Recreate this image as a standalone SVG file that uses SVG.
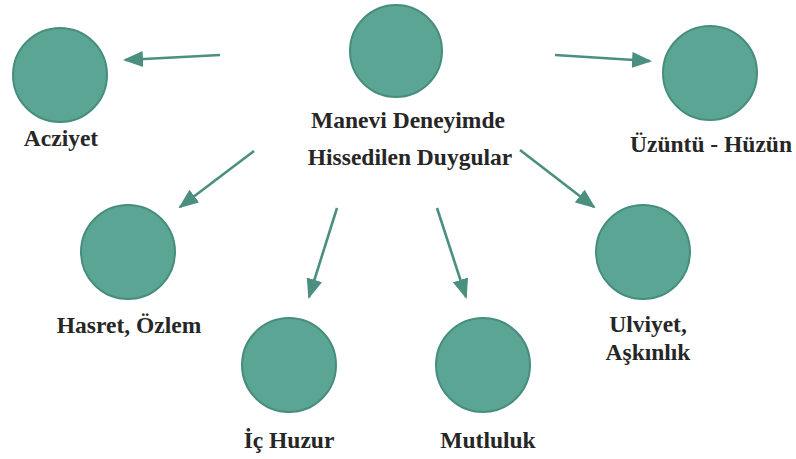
<svg xmlns="http://www.w3.org/2000/svg" width="796" height="459" viewBox="0 0 796 459">
<defs>
<style>
.n{fill:#5ba595;stroke:#478d7d;stroke-width:2}
text{font-family:"Liberation Serif","Times New Roman","DejaVu Serif",serif;font-weight:bold;font-size:23.5px;fill:#262626;text-anchor:middle}
.c{stroke:#4a8f80;stroke-width:2.6;fill:none}
</style>
<marker id="ah" viewBox="0 0 20 16" refX="18" refY="8" markerWidth="20" markerHeight="16" markerUnits="userSpaceOnUse" orient="auto">
<path d="M0,0 L20,8 L0,16 Z" fill="#4a8f80"/>
</marker>
</defs>
<rect width="796" height="459" fill="#fff"/>
<g id="connectors">
<line class="c" x1="220" y1="55" x2="125" y2="60" marker-end="url(#ah)"/>
<line class="c" x1="555" y1="55" x2="650" y2="61" marker-end="url(#ah)"/>
<line class="c" x1="254" y1="151" x2="180" y2="207" marker-end="url(#ah)"/>
<line class="c" x1="337" y1="208" x2="309" y2="297" marker-end="url(#ah)"/>
<line class="c" x1="437" y1="208" x2="466" y2="297" marker-end="url(#ah)"/>
<line class="c" x1="520" y1="150" x2="594" y2="207" marker-end="url(#ah)"/>
</g>
<g id="center">
<circle class="n" cx="396" cy="51" r="46"/>
<text x="408" y="128">Manevi Deneyimde</text>
<text x="410" y="165">Hissedilen Duygular</text>
</g>
<g id="acziyet">
<circle class="n" cx="60" cy="75" r="47"/>
<text x="61" y="146">Acziyet</text>
</g>
<g id="uzuntu">
<circle class="n" cx="710" cy="73" r="47"/>
<text x="711" y="152">Üzüntü - Hüzün</text>
</g>
<g id="hasret">
<circle class="n" cx="128" cy="252" r="47"/>
<text x="129" y="333">Hasret, Özlem</text>
</g>
<g id="ichuzur">
<circle class="n" cx="289" cy="365" r="47"/>
<text x="289" y="448">İç Huzur</text>
</g>
<g id="mutluluk">
<circle class="n" cx="483" cy="365" r="47"/>
<text x="488" y="448">Mutluluk</text>
</g>
<g id="ulviyet">
<circle class="n" cx="643" cy="252" r="47"/>
<text x="648" y="332">Ulviyet,</text>
<text x="648" y="360">Aşkınlık</text>
</g>
</svg>
